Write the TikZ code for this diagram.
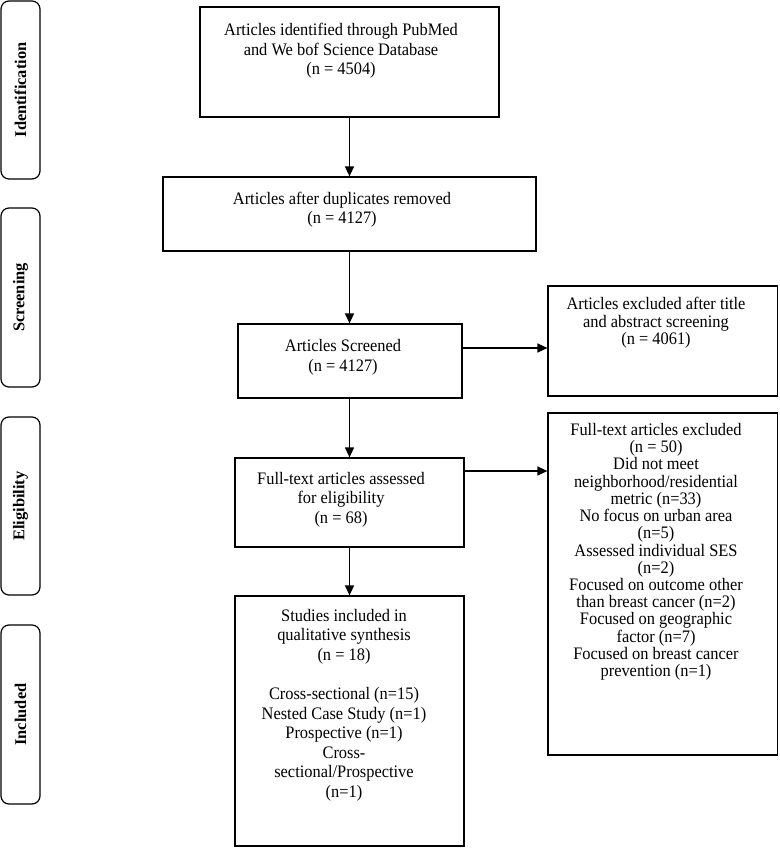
\documentclass[tikz,border=0pt]{standalone}
\usepackage{fontspec}
\usepackage{graphicx}
\setmainfont{Liberation Serif}
\usetikzlibrary{arrows.meta}
\newcommand\vtext[1]{\scalebox{1}[1.07]{\begin{tabular}{@{}c@{}}#1\end{tabular}}}
\begin{document}
\begin{tikzpicture}[x=1pt,y=-1pt,
  box/.style={draw,line width=1.2pt,inner sep=0pt,minimum width=#1},
  side/.style={draw,line width=1.2pt,rounded corners=8pt,inner sep=0pt,minimum height=39pt,rotate=90,font=\fontsize{16.4pt}{19.6pt}\selectfont\bfseries},
  txt/.style={inner sep=0pt,font=\fontsize{16.4pt}{18.3pt}\selectfont},
  txtr/.style={inner sep=0pt,font=\fontsize{16.4pt}{15.6pt}\selectfont},
  arr/.style={line width=1.4pt,-{Triangle[length=10pt,width=9pt]}}
]
\useasboundingbox (0,0) rectangle (779,848);
% side labels
\node[side,minimum width=178pt] (s1) at (20.5,90) {Identification};
\node[side,minimum width=179pt] (s2) at (20.5,297.5) {Screening};
\node[side,minimum width=178pt] (s3) at (20.5,506) {Eligibility};
\node[side,minimum width=179pt] (s4) at (20.5,714.5) {Included};
% boxes
\node[box=299pt,minimum height=110pt] (b1) at (349.5,62) {};
\node[box=373pt,minimum height=74pt] (b2) at (349.5,214) {};
\node[box=224pt,minimum height=74pt] (b3) at (350,361) {};
\node[box=229pt,minimum height=89pt] (b4) at (349.5,502.5) {};
\node[box=229pt,minimum height=250pt] (b5) at (349.5,721) {};
\node[box=229.5pt,minimum height=110pt] (r1) at (662.75,341) {};
\node[box=229.5pt,minimum height=342pt] (r2) at (662.75,584) {};
% texts
\node[txt] (t1) at (341,51.5) {\vtext{Articles identified through PubMed\\and We bof Science Database\\(n = 4504)}};
\node[txt] (t2) at (342,210) {\vtext{Articles after duplicates removed\\(n = 4127)}};
\node[txt] (t3) at (343,357.5) {\vtext{Articles Screened\\(n = 4127)}};
\node[txt] (t4) at (341,500) {\vtext{Full-text articles assessed\\for eligibility\\(n = 68)}};
\node[txt] (t5) at (344,705.5) {\vtext{Studies included in\\qualitative synthesis\\(n = 18)\\[18.3pt]Cross-sectional (n=15)\\Nested Case Study (n=1)\\Prospective (n=1)\\Cross-\\sectional/Prospective\\(n=1)}};
\node[txtr] (tr1) at (656,323.5) {\vtext{Articles excluded after title\\and abstract screening\\(n = 4061)}};
\node[txtr] (tr2) at (656,552.5) {\vtext{Full-text articles excluded\\(n = 50)\\Did not meet\\neighborhood/residential\\metric (n=33)\\No focus on urban area\\(n=5)\\Assessed individual SES\\(n=2)\\Focused on outcome other\\than breast cancer (n=2)\\Focused on geographic\\factor (n=7)\\Focused on breast cancer\\prevention (n=1)}};
% arrows
\draw[arr] (b1.south) -- (b2.north);
\draw[arr] (b2.south) -- (b3.north -| b2.south);
\draw[arr] (b3.south -| b2.south) -- (b4.north -| b2.south);
\draw[arr] (b4.south) -- (b5.north);
\draw[arr] (b3.east |- {(0,348)}) -- (r1.west |- {(0,348)});
\draw[arr] (b4.east |- {(0,471)}) -- (r2.west |- {(0,471)});
\end{tikzpicture}
\end{document}
